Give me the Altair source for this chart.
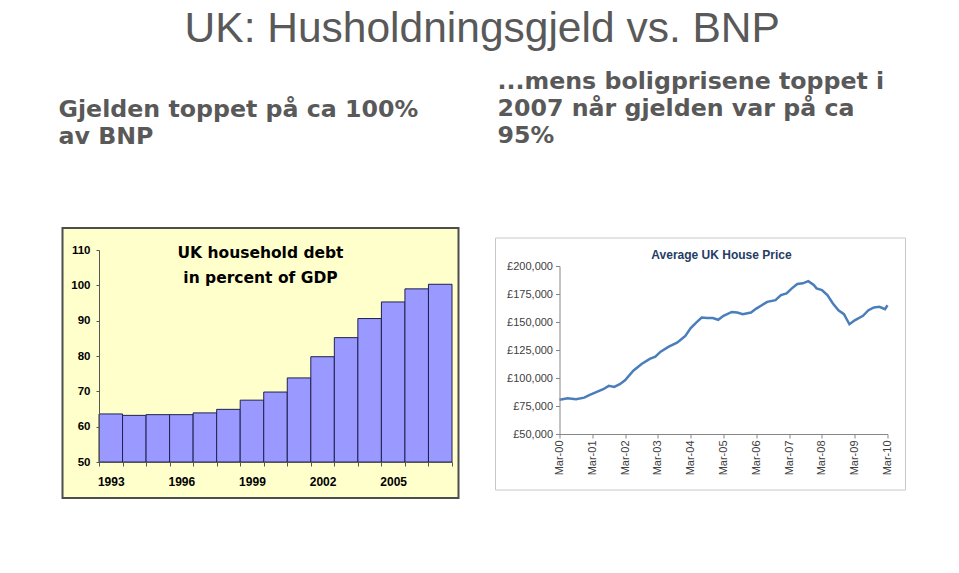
import altair as alt
import pandas as pd

# ---------------- data ----------------
debt_years = ["1993", "1994", "1995", "1996", "1997", "1998", "1999", "2000",
              "2001", "2002", "2003", "2004", "2005", "2006", "2007"]
debt_pct = [63.6, 63.2, 63.4, 63.4, 63.9, 64.9, 67.5, 69.8,
            73.8, 79.8, 85.2, 90.6, 95.3, 99.0, 100.3]
debt_labels = ["1993", "1996", "1999", "2002", "2005"]

price_dates = [
    "2000-03-01", "2000-06-01", "2000-09-01", "2000-12-01", "2001-02-01", "2001-04-01",
    "2001-07-01", "2001-09-01", "2001-11-01", "2002-01-01", "2002-03-01", "2002-06-01",
    "2002-09-01", "2002-12-01", "2003-02-01", "2003-04-01", "2003-07-01", "2003-10-01",
    "2003-12-01", "2004-01-01", "2004-03-01", "2004-05-01", "2004-07-01", "2004-09-01",
    "2004-11-01", "2005-01-01", "2005-03-01", "2005-06-01", "2005-08-01", "2005-10-01",
    "2006-01-01", "2006-03-01", "2006-05-01", "2006-07-01", "2006-10-01", "2006-12-01",
    "2007-02-01", "2007-04-01", "2007-06-01", "2007-08-01", "2007-10-01", "2007-12-01",
    "2008-01-01", "2008-03-01", "2008-05-01", "2008-07-01", "2008-09-01", "2008-11-01",
    "2009-01-01", "2009-03-01", "2009-06-01", "2009-08-01", "2009-10-01", "2009-12-01",
    "2010-02-01", "2010-03-01",
]
price_values = [
    80500, 82000, 81000, 82500, 85000, 87000,
    90000, 93000, 92000, 94500, 98000, 106500,
    112500, 117000, 119000, 123500, 128000, 131500,
    135500, 137500, 144500, 149500, 154000, 153500,
    153500, 152000, 155500, 159000, 158500, 157000,
    158500, 162000, 165000, 168000, 169500, 174000,
    175500, 180000, 184000, 184500, 186500, 183000,
    180000, 178500, 174000, 166500, 160500, 157000,
    148000, 151500, 155500, 160500, 163000, 163500,
    161500, 165000,
]
price_tick_years = list(range(2000, 2011))

main_title = "UK: Husholdningsgjeld vs. BNP"
left_sub = [" ", "Gjelden toppet på ca 100%", "av BNP"]
right_sub = ["...mens boligprisene toppet i", "2007 når gjelden var på ca", "95%"]
debt_title = ["UK household debt", "in percent of GDP"]
price_title = "Average UK House Price"

debt_df = pd.DataFrame({"year": debt_years, "pct": debt_pct})
price_df = pd.DataFrame({"date": price_dates, "price": price_values})
one = alt.Data(values=[{}])

GREY = "#595959"
SUB_SIZE = 23.7

# ---------------- left: bar chart ----------------
W1, H1 = 353, 212
label_list = "[" + ",".join("'%s'" % s for s in debt_labels) + "]"

frame1 = alt.Chart(one).mark_rect(fill="#FFFFCC", stroke="#4d4d4d", strokeWidth=2).encode(
    x=alt.value(-36.5), x2=alt.value(359.5), y=alt.value(-22), y2=alt.value(248)
)
bars = alt.Chart(debt_df).mark_bar(fill="#9999FF", stroke="#202050", strokeWidth=1).encode(
    x=alt.X("year:O", sort=debt_years,
            scale=alt.Scale(paddingInner=0, paddingOuter=0),
            axis=alt.Axis(title=None, labelAngle=0, tickBand="extent", tickSize=4,
                          labelPadding=10, labelFont="Liberation Sans", labelFontWeight="bold",
                          labelFontSize=12, labelColor="#000000", domainColor="#555555",
                          tickColor="#555555", labelOverlap=False, zindex=2,
                          labelExpr="indexof(%s, datum.label) >= 0 ? datum.label : ''" % label_list)),
    y=alt.Y("pct:Q", scale=alt.Scale(domain=[50, 110], nice=False, zero=False),
            axis=alt.Axis(title=None, values=[50, 60, 70, 80, 90, 100, 110], grid=False,
                          tickSize=3, labelPadding=6, labelFont="Liberation Sans",
                          labelFontWeight="bold", labelFontSize=11.5, labelColor="#000000",
                          domainColor="#555555", tickColor="#555555", zindex=2)),
    y2=alt.datum(50),
)
t1a = alt.Chart(one).mark_text(font="DejaVu Sans", fontWeight="bold", fontSize=15.5,
                               color="#000000", align="center", baseline="middle").encode(
    x=alt.value(161.5), y=alt.value(3), text=alt.value(debt_title[0]))
t1b = alt.Chart(one).mark_text(font="DejaVu Sans", fontWeight="bold", fontSize=15.5,
                               color="#000000", align="center", baseline="middle").encode(
    x=alt.value(161.5), y=alt.value(28), text=alt.value(debt_title[1]))

left = alt.layer(frame1, bars, t1a, t1b).properties(
    width=W1, height=H1,
    title=alt.TitleParams(text=left_sub, anchor="start", frame="group", dx=-40.5,
                          offset=54, fontSize=SUB_SIZE, font="DejaVu Sans", fontWeight="bold",
                          color=GREY, lineHeight=27, baseline="bottom"),
)

# ---------------- right: line chart ----------------
W2, H2 = 328, 184

frame2 = alt.Chart(one).mark_rect(fill="#FFFFFF", stroke="#C8C8C8", strokeWidth=1).encode(
    x=alt.value(-64), x2=alt.value(346), y=alt.value(-12), y2=alt.value(240)
)
line = alt.Chart(price_df).mark_line(color="#4A7EBB", strokeWidth=2.5).encode(
    x=alt.X("date:T",
            scale=alt.Scale(type="utc",
                            domain=[alt.DateTime(year=2000, month=3, date=1, utc=True),
                                    alt.DateTime(year=2010, month=3, date=1, utc=True)]),
            axis=alt.Axis(title=None, format="%b-%y", labelAngle=270, grid=False,
                          values=[alt.DateTime(year=y, month=3, date=1, utc=True)
                                  for y in price_tick_years],
                          tickSize=4, labelPadding=2, labelFont="Liberation Sans",
                          labelFontSize=11, labelColor="#404040", domainColor="#868686",
                          tickColor="#868686", labelOverlap=False, zindex=2)),
    y=alt.Y("price:Q",
            scale=alt.Scale(domain=[50000, 200000], nice=False, zero=False, range=[184, 16]),
            axis=alt.Axis(title=None, values=[50000, 75000, 100000, 125000, 150000, 175000, 200000],
                          grid=False, tickSize=4, labelPadding=3, labelFont="Liberation Sans",
                          labelFontSize=11, labelColor="#404040", domainColor="#868686",
                          tickColor="#868686", zindex=2,
                          labelExpr="'£' + format(datum.value, ',')")),
)
t2 = alt.Chart(one).mark_text(font="Liberation Sans", fontWeight="bold", fontSize=12,
                              color="#253C64", align="center", baseline="middle").encode(
    x=alt.value(162), y=alt.value(5), text=alt.value(price_title))

right = alt.layer(frame2, line, t2).properties(
    width=W2, height=H2,
    title=alt.TitleParams(text=right_sub, anchor="start", frame="group", dx=-62,
                          offset=66, fontSize=SUB_SIZE, font="DejaVu Sans", fontWeight="bold",
                          color=GREY, lineHeight=27, baseline="bottom"),
)

chart = alt.hconcat(left, right, spacing=34.5).properties(
    title=alt.TitleParams(text=main_title, anchor="middle", frame="bounds", offset=-24,
                          fontSize=42.5, font="Liberation Sans", fontWeight="normal",
                          color=GREY, baseline="bottom"),
    padding={"left": 50, "top": 0, "right": 5, "bottom": 5},
    background="#FFFFFF",
).configure_view(stroke=None)

chart.save("out.html", embed_options={"renderer": "svg", "actions": False})
